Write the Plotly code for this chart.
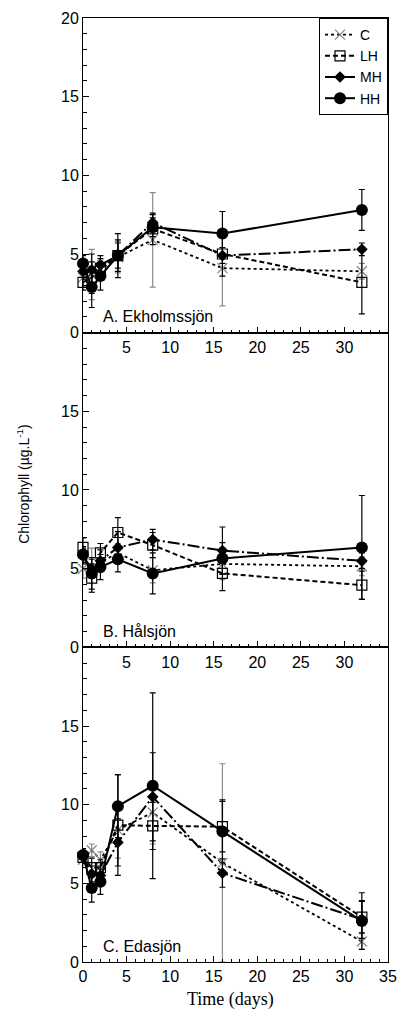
import plotly.graph_objects as go
from plotly.subplots import make_subplots

days = [0, 1, 2, 4, 8, 16, 32]
series_names = ["C", "LH", "MH", "HH"]
panel_labels = ["A. Ekholmssjön", "B. Hålsjön", "C. Edasjön"]

# Panel A: Ekholmssjön
a_C = [3.5, 3.7, 4.0, 4.8, 5.9, 4.1, 3.9]
a_C_err = [0.6, 1.6, 0.6, 1.0, 3.0, 2.4, 0.5]
a_LH = [3.2, 3.5, 4.1, 4.9, 6.6, 5.0, 3.2]
a_LH_err = [0.5, 1.0, 0.6, 1.0, 1.0, 1.4, 2.0]
a_MH = [3.9, 4.0, 4.3, 4.9, 7.0, 4.9, 5.3]
a_MH_err = [0.5, 1.0, 0.6, 1.4, 0.5, 0.5, 0.4]
a_HH = [4.4, 2.9, 3.6, 4.9, 6.7, 6.3, 7.8]
a_HH_err = [0.5, 1.3, 0.9, 0.8, 0.6, 1.4, 1.3]

# Panel B: Hålsjön
b_C = [5.0, 4.9, 5.4, 6.0, 4.9, 5.3, 5.15]
b_C_err = [0.6, 1.4, 0.5, 0.6, 0.8, 1.0, 0.6]
b_LH = [6.35, 4.4, 6.0, 7.3, 6.5, 4.7, 3.95]
b_LH_err = [0.6, 0.9, 0.6, 0.95, 0.8, 1.1, 0.9]
b_MH = [5.8, 5.0, 5.5, 6.35, 6.85, 6.15, 5.5]
b_MH_err = [0.5, 0.6, 0.7, 1.0, 0.65, 1.5, 0.5]
b_HH = [5.9, 4.7, 5.1, 5.6, 4.7, 5.65, 6.35]
b_HH_err = [0.5, 1.0, 0.8, 0.8, 1.3, 1.0, 3.3]

# Panel C: Edasjön
c_C = [6.5, 7.1, 6.5, 8.4, 9.5, 6.3, 1.3]
c_C_err = [0.5, 0.4, 0.5, 1.8, 2.0, 6.3, 0.5]
c_LH = [6.65, 6.0, 6.0, 8.7, 8.65, 8.6, 2.85]
c_LH_err = [0.4, 0.6, 0.5, 3.2, 1.5, 1.6, 1.0]
c_MH = [6.7, 5.6, 5.5, 7.6, 10.5, 5.65, 2.7]
c_MH_err = [0.4, 0.5, 0.6, 1.5, 2.8, 0.9, 1.2]
c_HH = [6.8, 4.7, 5.1, 9.9, 11.2, 8.3, 2.6]
c_HH_err = [0.4, 0.9, 0.8, 2.0, 5.9, 2.0, 1.8]

x_ticks_inner = [5, 10, 15, 20, 25, 30]
x_ticks_bottom = [0, 5, 10, 15, 20, 25, 30, 35]
y_ticks_top = [0, 5, 10, 15, 20]
y_ticks_lower = [0, 5, 10, 15]

panels = [
    [(a_C, a_C_err), (a_LH, a_LH_err), (a_MH, a_MH_err), (a_HH, a_HH_err)],
    [(b_C, b_C_err), (b_LH, b_LH_err), (b_MH, b_MH_err), (b_HH, b_HH_err)],
    [(c_C, c_C_err), (c_LH, c_LH_err), (c_MH, c_MH_err), (c_HH, c_HH_err)],
]

styles = {
    "C": dict(line=dict(color="black", width=1.8, dash="dot"),
              marker=dict(symbol="x-thin-open", size=10, color="#8a8a8a",
                          line=dict(color="#8a8a8a", width=1.3)),
              ecolor="#8a8a8a"),
    "LH": dict(line=dict(color="black", width=2, dash="5px,3px"),
               marker=dict(symbol="square-open", size=10, color="black",
                           line=dict(color="black", width=1.2)),
               ecolor="black"),
    "MH": dict(line=dict(color="black", width=2, dash="12px,3px,2px,3px"),
               marker=dict(symbol="diamond", size=9, color="black"),
               ecolor="black"),
    "HH": dict(line=dict(color="black", width=2, dash="solid"),
               marker=dict(symbol="circle", size=12, color="black"),
               ecolor="black"),
}

fig = make_subplots(rows=3, cols=1, vertical_spacing=0)

for p, panel in enumerate(panels):
    for name, (vals, errs) in zip(series_names, panel):
        st = styles[name]
        fig.add_trace(go.Scatter(
            x=days, y=vals, mode="lines+markers", name=name,
            line=st["line"], marker=st["marker"],
            error_y=dict(type="data", array=errs, color=st["ecolor"],
                         thickness=1.2, width=3),
            showlegend=(p == 0), cliponaxis=False,
        ), row=p + 1, col=1)

font_sans = "Liberation Sans, Arial, sans-serif"
axis_common = dict(showline=True, linecolor="black", linewidth=1, mirror=True,
                   ticks="inside", ticklen=6, tickcolor="black", tickwidth=1,
                   showgrid=False, zeroline=False,
                   tickfont=dict(family=font_sans, size=16, color="black"))

for r in range(1, 4):
    xt = x_ticks_inner if r < 3 else x_ticks_bottom
    fig.update_xaxes(range=[0, 35], tickmode="array",
                     tickvals=xt, ticktext=[str(v) for v in xt],
                     minor=dict(dtick=1, tick0=0, ticks="inside", ticklen=3,
                                tickcolor="black"),
                     row=r, col=1, **axis_common)
    yt = y_ticks_top if r == 1 else y_ticks_lower
    fig.update_yaxes(range=[0, 20], tickmode="array",
                     tickvals=yt, ticktext=[str(v) for v in yt],
                     minor=dict(dtick=1, tick0=0, ticks="inside", ticklen=4,
                                tickcolor="black"),
                     row=r, col=1, **axis_common)

ydoms = {1: "y domain", 2: "y2 domain", 3: "y3 domain"}
xdoms = {1: "x domain", 2: "x2 domain", 3: "x3 domain"}
for i, lab in enumerate(panel_labels):
    fig.add_annotation(text=lab, xref=xdoms[i + 1], yref=ydoms[i + 1],
                       x=0.06, y=0.05, xanchor="left", yanchor="middle",
                       showarrow=False,
                       font=dict(family=font_sans, size=16, color="black"))

fig.add_annotation(text="Chlorophyll (µg.L<sup>-1</sup>)", xref="paper", yref="paper",
                   x=-0.195, y=0.506, xanchor="center", yanchor="middle",
                   textangle=-90, showarrow=False,
                   font=dict(family=font_sans, size=14, color="black"))
fig.add_annotation(text="Time (days)", xref="paper", yref="paper",
                   x=0.485, y=-0.04, xanchor="center", yanchor="middle",
                   showarrow=False,
                   font=dict(family="Liberation Serif, Times New Roman, serif",
                             size=18, color="black"))

fig.update_layout(
    width=407, height=1024,
    margin=dict(l=83, r=10, t=18, b=62),
    paper_bgcolor="white", plot_bgcolor="white",
    legend=dict(x=1, y=1, xanchor="right", yanchor="top",
                bgcolor="white", bordercolor="black", borderwidth=1,
                font=dict(family=font_sans, size=14, color="black"),
                tracegroupgap=0, itemwidth=30),
)

fig.write_html("out.html")
